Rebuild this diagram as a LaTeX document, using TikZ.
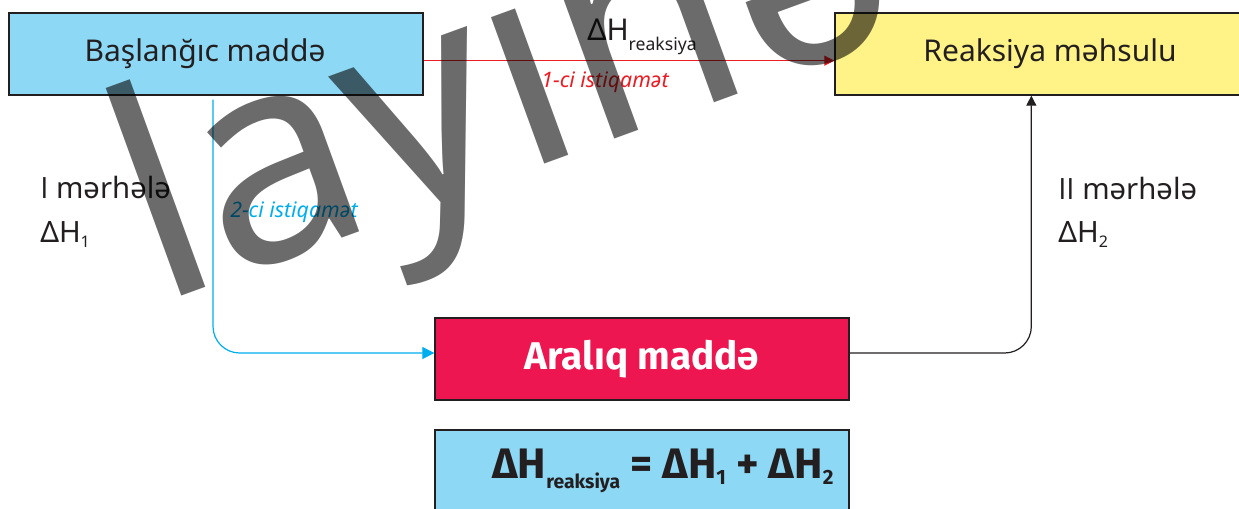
\documentclass[tikz,border=0pt]{standalone}
\usepackage{fontspec}
\setmainfont{Noto Sans}
\newfontfamily\boldfam{Fira Sans}
\newfontfamily\osans{Open Sans}
\usetikzlibrary{arrows.meta}
\definecolor{dark}{HTML}{231F20}
\definecolor{lblue}{HTML}{8DD8F5}
\definecolor{lyellow}{HTML}{FFF387}
\definecolor{crimson}{HTML}{ED1651}
\definecolor{cyanline}{HTML}{00AEEF}
\definecolor{redline}{HTML}{ED1C24}
\tikzset{
  box/.style={draw=dark, line width=1pt, minimum width=310.5pt, minimum height=61.5pt, inner sep=0pt, text=dark},
  boxfont/.style={font=\fontsize{22.5}{27}\selectfont},
  plain/.style={inner sep=0pt, text=dark, font=\fontsize{22}{26}\selectfont},
  ital/.style={inner sep=0pt, font=\fontsize{16}{19}\selectfont\itshape},
  redarrow/.style={draw=redline, line width=0.9pt, -{Triangle[length=7.5pt,width=7.5pt]}},
  bluearrow/.style={draw=cyanline, line width=0.9pt, rounded corners=20pt, -{Triangle[length=9pt,width=9pt]}},
  blackarrow/.style={draw=dark, line width=0.9pt, rounded corners=20pt, -{Triangle[length=7.5pt,width=7.5pt]}},
}
\begin{document}
\begin{tikzpicture}[x=0.75pt,y=-0.75pt]
\useasboundingbox (0,0) rectangle (1239,508);
\fill[white] (0,0) rectangle (1239,508);
% boxes
\node[box, boxfont, fill=lblue] (b1) at (216,54) {Başlanğıc maddə\hspace*{16.5pt}};
\node[box, boxfont, fill=lyellow] (b2) at (1042,54) {\hspace*{12pt}Reaksiya məhsulu};
\node[box, fill=crimson, text=white, font=\boldfam\bfseries\fontsize{29}{33}\selectfont] (ar) at (642,359) {Aralıq maddə};
\node[box, fill=lblue, font=\boldfam\bfseries\fontsize{32}{36}\selectfont] (fb) at (642,471)
  {\hspace*{31.5pt}ΔH\raisebox{-8pt}{\fontsize{14.5}{16}\selectfont reaksiya} = ΔH\raisebox{-4.5pt}{\fontsize{15.5}{17}\selectfont 1} + ΔH\raisebox{-4.5pt}{\fontsize{15.5}{17}\selectfont 2}};
% connectors
\draw[redarrow] ([yshift=-5pt]b1.east) -- ([yshift=-5pt]b2.west);
\draw[bluearrow] ([xshift=-2.25pt,yshift=-3pt]b1.south) |- ([yshift=4.5pt]ar.west);
\draw[blackarrow] ([yshift=4.5pt]ar.east) -| ([xshift=-8pt]b2.south);
% labels
\node[plain, anchor=base, font=\fontsize{22.5}{27}\selectfont] (dhr) at (642,40) {ΔH\raisebox{-7.5pt}{\fontsize{13.2}{15}\selectfont reaksiya}};
\node[ital, text=redline, anchor=base] (l1) at (605,87) {1-ci istiqamət};
\node[ital, text=cyanline, anchor=base west] (l2) at (230,217) {2-ci istiqamət};
\node[plain, anchor=base west] (m1) at (40,198) {{\osans I} mərhələ};
\node[plain, anchor=base west] (h1) at (40,242) {ΔH\raisebox{-3.75pt}{\fontsize{12}{14}\selectfont 1}};
\node[plain, anchor=base west] (m2) at (1058,199) {{\osans II} mərhələ};
\node[plain, anchor=base west] (h2) at (1058,242) {ΔH\raisebox{-3.75pt}{\fontsize{12}{14}\selectfont 2}};
% watermark
\node[inner sep=0pt, text=black, text opacity=0.58, rotate=20, anchor=base west, font=\fontsize{218}{218}\selectfont] (wm) at (158,305) {layihə};
\end{tikzpicture}
\end{document}
